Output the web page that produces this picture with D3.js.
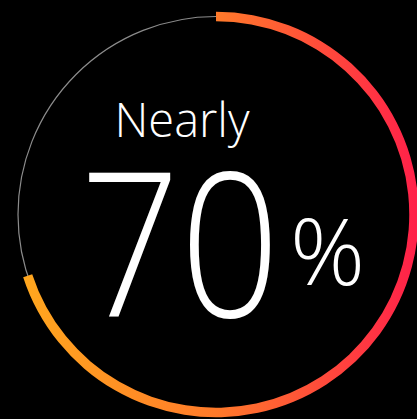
<!DOCTYPE html>
<html>
<head>
<meta charset="utf-8">
<script src="https://cdn.jsdelivr.net/npm/d3@7"></script>
<style>
  html, body { margin: 0; padding: 0; background: #000; }
  svg { display: block; }
  .lbl { fill: #fff; font-family: "Open Sans", sans-serif; font-weight: 350; }
</style>
</head>
<body>
<div id="chart"></div>
<script>
// data
const value = 70;
const maxValue = 100;
const prefix = "Nearly";
const valueText = "70";
const unit = "%";
const gradColors = ["#ffa81e", "#ff7a2a", "#ff2249"];
const gradOffsets = [0, 0.5, 1];

const width = 417, height = 419;
const cx = 216, cy = 214.5, r = 198, thick = 9.5;

const svg = d3.select("#chart").append("svg")
  .attr("width", width)
  .attr("height", height);

const g = svg.append("g").attr("transform", "translate(" + cx + "," + cy + ")");

// horizontal gradient across the ring (coords relative to the centred group)
const grad = svg.append("defs").append("linearGradient")
  .attr("id", "ringGrad")
  .attr("gradientUnits", "userSpaceOnUse")
  .attr("x1", -r).attr("y1", 0)
  .attr("x2", r).attr("y2", 0);
grad.selectAll("stop").data(gradColors).enter().append("stop")
  .attr("offset", (d, i) => gradOffsets[i])
  .attr("stop-color", d => d);

const angle = d3.scaleLinear().domain([0, maxValue]).range([0, 2 * Math.PI]);

// thin track
g.append("circle")
  .attr("r", r)
  .attr("fill", "none")
  .attr("stroke", "#8c8c8c")
  .attr("stroke-width", 1.2);

// progress arc
const arc = d3.arc()
  .innerRadius(r - thick / 2)
  .outerRadius(r + thick / 2)
  .startAngle(angle(0));

g.append("path")
  .datum({endAngle: angle(value)})
  .attr("d", arc)
  .attr("fill", "url(#ringGrad)");

// labels
svg.append("text")
  .attr("class", "lbl")
  .attr("x", 182).attr("y", 137)
  .attr("text-anchor", "middle")
  .style("font-size", "47px")
  .text(prefix);

svg.append("text")
  .attr("class", "lbl")
  .attr("x", 80).attr("y", 317)
  .attr("textLength", 200)
  .attr("lengthAdjust", "spacingAndGlyphs")
  .style("font-size", "202px")
  .text(valueText);

svg.append("text")
  .attr("class", "lbl")
  .attr("x", 290).attr("y", 285)
  .style("font-size", "93px")
  .text(unit);
</script>
</body>
</html>
